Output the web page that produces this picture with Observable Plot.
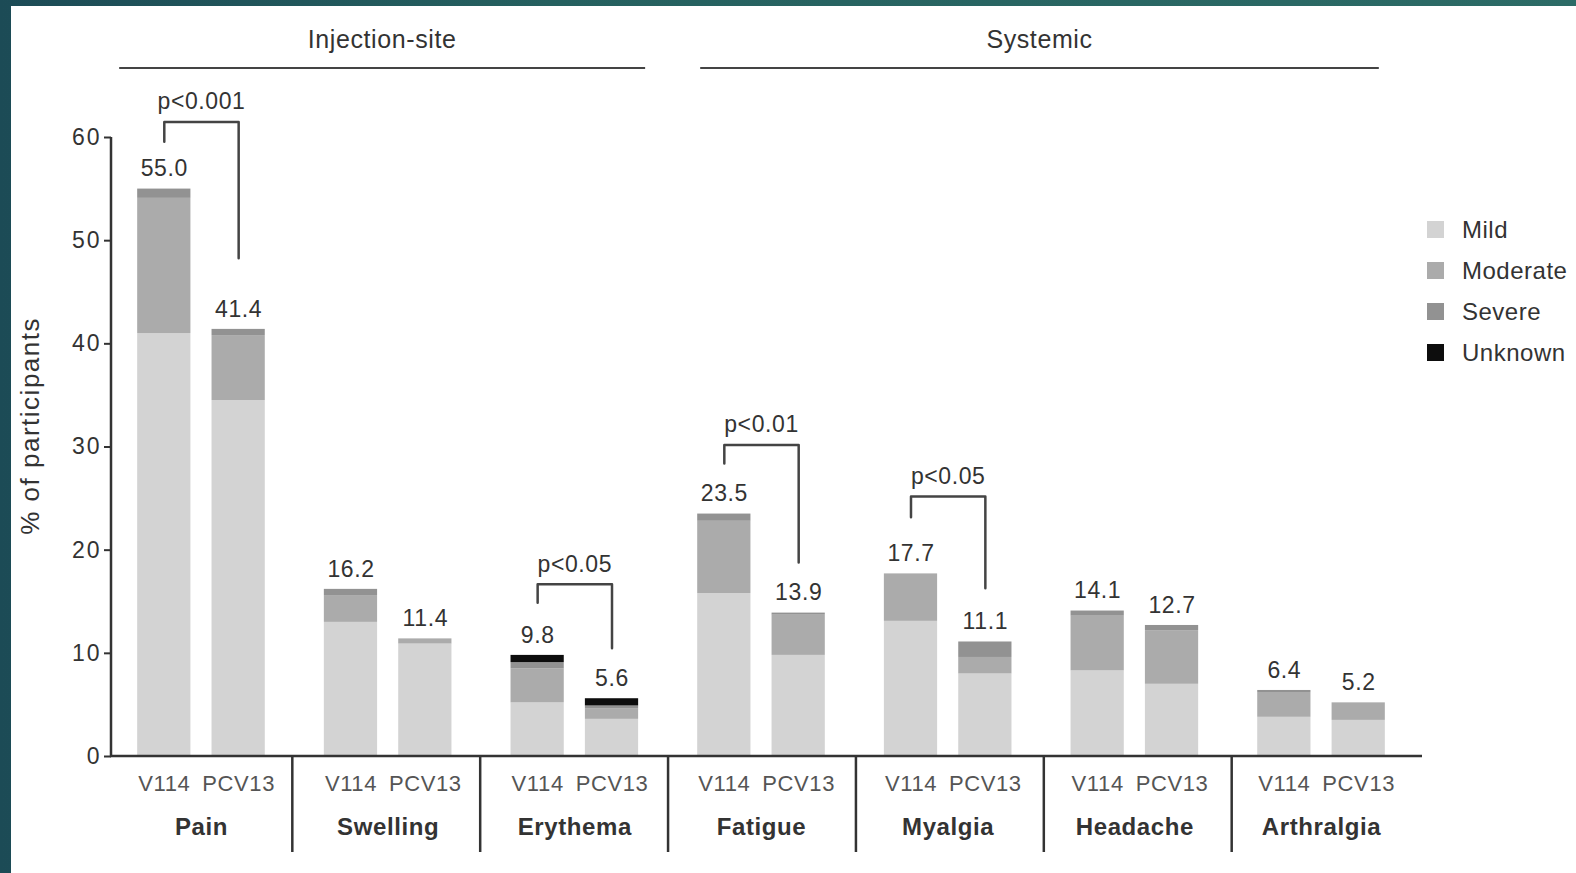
<!DOCTYPE html>
<html><head><meta charset="utf-8">
<script src="https://cdn.jsdelivr.net/npm/d3@7"></script>
<script src="https://cdn.jsdelivr.net/npm/@observablehq/plot@0.6"></script>
<style>
html,body{margin:0;padding:0;width:1576px;height:873px;overflow:hidden;
  background:linear-gradient(90deg,#1c4b56 0%,#25605f 35%,#2c6b66 100%);
  font-family:"Liberation Sans",Arial,sans-serif;}
#panel{position:absolute;left:11px;top:6px;width:1565px;height:867px;background:#fff;}
#chart{position:absolute;left:0;top:0;}
#chart text{letter-spacing:0.6px;}
#chart g[aria-label="y-axis tick label"] text{letter-spacing:2px;}
#legend{position:absolute;left:1416px;top:203px;color:#333;font-size:24px;letter-spacing:0.5px;}
.li{height:41px;display:flex;align-items:center;}
.sw{width:17px;height:17px;margin-right:18px;}
</style></head>
<body><div id="panel"><div id="chart"></div><div id="legend"></div></div>
<script>
// ---- data ----
const symptoms = ["Pain","Swelling","Erythema","Fatigue","Myalgia","Headache","Arthralgia"];
const vaccines = ["V114","PCV13"];
const severities = ["Mild","Moderate","Severe","Unknown"];
const severityColors = ["#d3d3d3","#ababab","#929292","#0d0d0d"];

const v114Mild     = [41.0, 13.0, 5.2, 15.8, 13.1, 8.3, 3.8];
const v114Moderate = [13.1,  2.6, 3.3,  7.0,  4.6, 5.3, 2.4];
const v114Severe   = [ 0.9,  0.6, 0.6,  0.7,  0.0, 0.5, 0.2];
const v114Unknown  = [ 0.0,  0.0, 0.7,  0.0,  0.0, 0.0, 0.0];
const v114Total    = [55.0, 16.2, 9.8, 23.5, 17.7, 14.1, 6.4];

const pcv13Mild     = [34.5, 10.9, 3.6, 9.8, 8.0, 7.0, 3.5];
const pcv13Moderate = [ 6.3,  0.5, 1.0, 3.9, 1.6, 5.2, 1.7];
const pcv13Severe   = [ 0.6,  0.0, 0.3, 0.2, 1.5, 0.5, 0.0];
const pcv13Unknown  = [ 0.0,  0.0, 0.7, 0.0, 0.0, 0.0, 0.0];
const pcv13Total    = [41.4, 11.4, 5.6, 13.9, 11.1, 12.7, 5.2];

const yTicks = [0, 10, 20, 30, 40, 50, 60];

// significance brackets (y levels in % units)
const bracketSymptoms = ["Pain","Erythema","Fatigue","Myalgia"];
const bracketLabels   = ["p<0.001","p<0.05","p<0.01","p<0.05"];
const bracketLeftEnd  = [59.6, 14.9, 28.4, 23.2];
const bracketTop      = [61.5, 16.7, 30.2, 25.2];
const bracketRightEnd = [48.3, 10.5, 18.8, 16.3];

const groupHeaders = ["Injection-site","Systemic"];
const groupMembers = [["Pain","Swelling","Erythema"],["Fatigue","Myalgia","Headache","Arthralgia"]];

// ---- tables built from arrays ----
const series = {
  V114: [v114Mild, v114Moderate, v114Severe, v114Unknown],
  PCV13: [pcv13Mild, pcv13Moderate, pcv13Severe, pcv13Unknown]
};
const totals = {V114: v114Total, PCV13: pcv13Total};
const rows = [];
const totalRows = [];
symptoms.forEach((s, i) => {
  vaccines.forEach(v => {
    severities.forEach((sev, k) => rows.push({symptom: s, vaccine: v, severity: sev, value: series[v][k][i]}));
    totalRows.push({symptom: s, vaccine: v, total: totals[v][i]});
  });
});
const bracketPts = [];
const bracketTexts = [];
bracketSymptoms.forEach((s, i) => {
  bracketPts.push({symptom: s, vaccine: "V114", y: bracketLeftEnd[i]});
  bracketPts.push({symptom: s, vaccine: "V114", y: bracketTop[i]});
  bracketPts.push({symptom: s, vaccine: "PCV13", y: bracketTop[i]});
  bracketPts.push({symptom: s, vaccine: "PCV13", y: bracketRightEnd[i]});
  bracketTexts.push({symptom: s, y: bracketTop[i], label: bracketLabels[i]});
});

const W = 1565, H = 867;
const chart = Plot.plot({
  width: W, height: H,
  marginTop: 131, marginBottom: 117, marginLeft: 100, marginRight: 165,
  style: {fontFamily: '"Liberation Sans", Arial, sans-serif', color: "#333", background: "transparent", overflow: "visible"},
  fx: {domain: symptoms, paddingInner: 0.036, paddingOuter: 0, align: 0, round: false, axis: null, label: null},
  x: {domain: vaccines, paddingInner: 0.284, paddingOuter: 0.352, round: false, label: null},
  y: {domain: [0, 60], label: null},
  color: {domain: severities, range: severityColors},
  marks: [
    Plot.barY(rows, {fx: "symptom", x: "vaccine", y: "value", fill: "severity"}),
    Plot.axisY({ticks: yTicks, tickSize: 7, tickPadding: 3, fontSize: 23, strokeWidth: 2, label: null}),
    Plot.axisX({tickSize: 0, tickPadding: 19, fontSize: 22, fill: "#555", label: null}),
    Plot.text(symptoms, {fx: d => d, text: d => d, frameAnchor: "bottom", lineAnchor: "middle", dy: 71, fontSize: 24, fontWeight: "bold", fill: "#333"}),
    Plot.text(totalRows, {fx: "symptom", x: "vaccine", y: "total", text: d => d.total.toFixed(1), dy: -20, fontSize: 23, fill: "#333"}),
    Plot.line(bracketPts, {fx: "symptom", x: "vaccine", y: "y", z: "symptom", stroke: "#444", strokeWidth: 2.5, curve: "linear"}),
    Plot.text(bracketTexts, {fx: "symptom", y: "y", text: "label", dy: -20, fontSize: 23, fill: "#333"})
  ]
});
document.getElementById("chart").appendChild(chart);

// ---- frame lines, separators and group headers from the scales ----
const ys = chart.scale("y"), fxs = chart.scale("fx"), xs = chart.scale("x");
const y0 = ys.apply(0), yTop = ys.apply(60);
const step = fxs.apply(symptoms[1]) - fxs.apply(symptoms[0]);
const fbw = fxs.bandwidth;
const xr0 = Math.min(...xs.range);
const xbw = xs.bandwidth;
const left = fxs.apply(symptoms[0]);
const right = fxs.apply(symptoms[symptoms.length - 1]) + fbw;
const svg = d3.select(chart);
const g = svg.append("g").attr("stroke", "#333").attr("stroke-width", 2.5);
g.append("line").attr("x1", left).attr("x2", left).attr("y1", yTop).attr("y2", y0);
g.append("line").attr("x1", left - 1).attr("x2", right + 11).attr("y1", y0).attr("y2", y0);
symptoms.slice(1).forEach((s, i) => {
  const sx = fxs.apply(s) - (step - fbw) / 2 - 2 + i * 1.2;
  g.append("line").attr("x1", sx).attr("x2", sx).attr("y1", y0).attr("y2", y0 + 96);
});
const headerPads = [[-18, 7], [3, -6]];
groupHeaders.forEach((h, i) => {
  const m = groupMembers[i];
  const x1 = fxs.apply(m[0]) + (xs.apply("V114") - xr0) + headerPads[i][0];
  const x2 = fxs.apply(m[m.length - 1]) + (xs.apply("PCV13") - xr0) + xbw + headerPads[i][1];
  svg.append("line").attr("x1", x1).attr("x2", x2).attr("y1", 62).attr("y2", 62)
     .attr("stroke", "#444").attr("stroke-width", 2);
  svg.append("text").attr("x", (x1 + x2) / 2).attr("y", 35).attr("text-anchor", "middle")
     .attr("dominant-baseline", "middle").attr("font-size", 25).attr("fill", "#333").text(h);
});

// y-axis title
svg.append("text").attr("transform", `translate(21,${ys.apply(32)}) rotate(-90)`)
  .attr("text-anchor", "middle").attr("dominant-baseline", "middle")
  .attr("font-size", 26).attr("fill", "#333").style("letter-spacing", "1.5px").text("% of participants");

// legend
const legend = d3.select("#legend");
severities.forEach((s, i) => {
  const row = legend.append("div").attr("class", "li");
  row.append("div").attr("class", "sw").style("background", severityColors[i]);
  row.append("span").text(s);
});
</script>
</body></html>
